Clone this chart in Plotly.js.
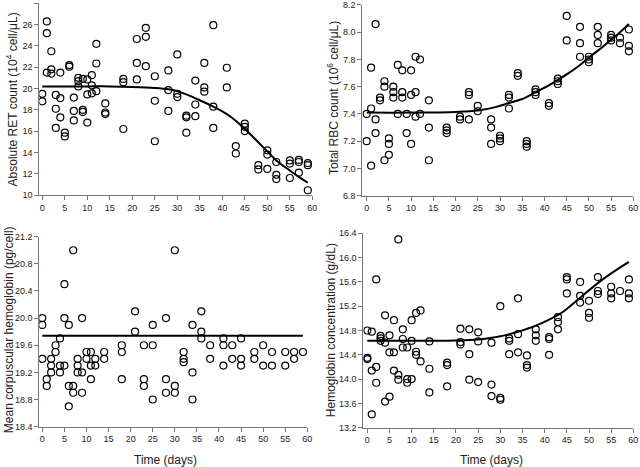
<!DOCTYPE html>
<html><head><meta charset="utf-8">
<script src="https://cdn.plot.ly/plotly-3.0.1.min.js"></script>
<style>html,body{margin:0;padding:0;background:#fff}#chart{width:640px;height:467px}</style>
</head><body><div id="chart"></div>
<script>
// ---- Panel A: Absolute RET count ----
const retDays = [0,0, 1,1,1, 2,2,2, 3,3,3, 4,4,4, 5,5, 6,6, 7,7,7, 8,8,8, 9,9,9, 10,10,10, 11,11,11, 12,12,12, 14,14,14, 18,18,18, 21,21,21, 23,23,23, 25,25,25, 28,28,28, 30,30,30, 32,32,32, 34,34,34, 36,36,36, 38,38,38, 41,41, 43,43, 45,45,45, 48,48, 50,50,50, 52,52,52, 55,55,55, 57,57,57, 59,59,59];
const retVals = [19.5,18.8, 26.3,25.2,21.5, 23.5,21.8,21.4, 19.4,18.1,16.3, 21.5,19.1,17.3, 15.85,15.5, 22.2,22.05, 19.15,17.9,17.0, 21.0,20.7,20.2, 20.9,18.0,17.8, 20.85,19.45,16.8, 21.25,20.3,19.55, 24.2,22.35,19.75, 18.6,17.75,17.6, 20.9,20.6,16.2, 24.65,22.4,20.85, 25.7,24.85,22.1, 21.15,18.85,15.05, 21.7,19.85,17.9, 23.2,19.5,19.2, 17.45,17.3,15.85, 20.75,18.5,17.4, 22.4,20.1,19.7, 25.95,18.3,16.3, 21.95,20.1, 14.6,13.9, 16.7,16.4,16.0, 12.8,12.4, 14.2,13.8,12.45, 13.1,11.9,11.5, 13.25,12.95,11.6, 13.3,13.1,12.1, 13.0,12.8,10.45];
const retFitDays = [0,5,10,15,20,25,28,30,32,35,38,40,42,44,46,48,50,52,55,57,59];
const retFitVals = [20.2,20.2,20.2,20.2,20.15,20.05,19.93,19.75,19.45,18.9,18.3,17.85,17.3,16.6,15.8,14.95,14.1,13.25,12.3,11.7,11.15];

// ---- Panel B: Total RBC count ----
const rbcDays = [0,0, 1,1,1, 2,2,2, 3,3, 4,4,4, 5,5,5, 6,6,6, 7,7, 8,8,8, 9,9, 10,10,10, 11,11,11, 12,12, 14,14,14, 18,18,18, 21,21, 23,23,23, 25,25, 28,28,28, 30,30,30, 32,32,32, 34,34, 36,36,36, 38,38,38, 41,41, 43,43,43, 45,45, 48,48,48, 50,50,50, 52,52,52, 55,55,55, 57,57, 59,59,59];
const rbcVals = [7.40,7.20, 7.74,7.44,7.02, 8.06,7.36,7.26, 7.52,7.50, 7.64,7.60,7.06, 7.22,7.18,7.10, 7.60,7.56,7.52, 7.76,7.40, 7.72,7.56,7.52, 7.40,7.26, 7.72,7.54,7.18, 7.82,7.56,7.38, 7.80,7.40, 7.50,7.30,7.06, 7.30,7.28,7.26, 7.38,7.36, 7.56,7.54,7.36, 7.46,7.42, 7.36,7.30,7.18, 7.24,7.22,7.20, 7.54,7.52,7.44, 7.70,7.68, 7.20,7.18,7.16, 7.58,7.56,7.54, 7.48,7.46, 7.66,7.64,7.62, 8.12,7.94, 8.04,7.92,7.82, 7.82,7.80,7.78, 8.04,7.98,7.92, 7.98,7.96,7.94, 7.96,7.92, 8.02,7.90,7.86];
const rbcFitDays = [0,10,20,25,29,32,35,38,41,43,45,48,50,53,55,57,59];
const rbcFitVals = [7.41,7.41,7.415,7.425,7.45,7.48,7.51,7.56,7.61,7.65,7.69,7.76,7.815,7.89,7.945,8.0,8.06];

// ---- Panel C: Mean corpuscular hemoglobin ----
const mchDays = [0,0,0, 1,1, 2,2,2, 3,3, 4,4,4, 5,5,5, 6,6,6, 7,7,7, 8,8,8, 9,9,9, 10,10, 11,11,11, 12,12, 14,14, 18,18,18, 21,21, 23,23,23, 25,25,25, 28,28,28, 30,30,30, 32,32,32, 34,34,34, 36,36,36, 38,38, 41,41,41, 43,43, 45,45,45, 48,48, 50,50, 52,52, 55,55, 57,57, 59];
const mchVals = [20.0,19.9,19.4, 19.1,19.0, 19.4,19.3,19.2, 19.6,19.5, 19.7,19.3,19.2, 20.5,20.0,19.3, 19.9,19.0,18.7, 21.0,19.0,18.9, 19.4,19.3,19.2, 20.0,19.2,18.9, 19.5,19.4, 19.5,19.3,19.1, 19.4,19.3, 19.5,19.4, 19.6,19.5,19.1, 20.1,19.8, 19.6,19.1,19.0, 19.9,19.6,18.8, 20.0,19.1,18.9, 21.0,19.0,18.9, 19.5,19.4,19.35, 19.9,19.2,18.8, 20.1,19.8,19.7, 19.6,19.4, 19.7,19.6,19.3, 19.6,19.4, 19.7,19.4,19.3, 19.5,19.4, 19.6,19.3, 19.5,19.3, 19.5,19.3, 19.5,19.4, 19.5];
const mchFitDays = [0,59];
const mchFitVals = [19.74,19.74];

// ---- Panel D: Hemoglobin concentration ----
const hbDays = [0,0,0, 1,1,1, 2,2,2, 3,3,3, 4,4,4, 5,5,5, 6,6,6, 7,7,7, 8,8,8, 9,9,9, 10,10,10, 11,11,11, 12,12, 14,14,14, 18,18,18, 21,21,21, 23,23,23, 25,25,25, 28,28,28, 30,30,30, 32,32,32, 34,34,34, 36,36,36, 38,38,38, 41,41,41, 43,43,43, 45,45,45, 48,48,48, 50,50,50, 52,52,52, 55,55,55, 57, 59,59,59];
const hbVals = [14.8,14.35,14.33, 14.78,14.14,13.42, 15.64,14.2,13.94, 14.71,14.67,14.63, 15.05,14.6,13.63, 14.72,14.44,13.71, 14.97,14.44,14.14, 16.3,14.07,13.99, 14.82,14.66,14.52, 14.52,14.0,13.94, 14.97,14.63,14.0, 15.09,14.45,14.4, 15.13,14.29, 14.62,14.17,13.78, 14.27,14.23,13.88, 14.83,14.61,14.57, 14.82,14.41,13.99, 14.77,14.62,13.95, 14.6,13.91,13.72, 15.2,13.69,13.66, 14.67,14.63,14.41, 15.33,14.74,14.44, 14.39,14.23,14.19, 14.82,14.72,14.63, 14.69,14.66,14.4, 15.02,14.94,14.82, 15.68,15.64,15.41, 15.6,15.37,15.26, 15.29,15.09,15.01, 15.68,15.45,15.4, 15.52,15.41,15.33, 15.45, 15.64,15.41,15.33];
const hbFitDays = [0,20,25,28,31,34,38,41,44,48,52,55,59];
const hbFitVals = [14.63,14.635,14.65,14.68,14.72,14.78,14.88,14.98,15.1,15.34,15.58,15.74,15.93];

const xTicks = [0,5,10,15,20,25,30,35,40,45,50,55,60];
const yTitles = ['Absolute RET count (10<sup>4</sup> cell/μL)', 'Total RBC count (10<sup>6</sup> cell/μL)', 'Mean corpuscular hemoglobin (pg/cell)', 'Hemoglobin concentration (g/dL)'];
const xTitle = 'Time (days)';

const panels = [
  {dx: retDays, dy: retVals, fx: retFitDays, fy: retFitVals},
  {dx: rbcDays, dy: rbcVals, fx: rbcFitDays, fy: rbcFitVals},
  {dx: mchDays, dy: mchVals, fx: mchFitDays, fy: mchFitVals},
  {dx: hbDays, dy: hbVals, fx: hbFitDays, fy: hbFitVals}
];

const traces = [];
panels.forEach((p, i) => {
  const xa = i === 0 ? 'x' : 'x' + (i + 1);
  const ya = i === 0 ? 'y' : 'y' + (i + 1);
  traces.push({x: p.dx, y: p.dy, xaxis: xa, yaxis: ya, type: 'scatter', mode: 'markers',
    marker: {symbol: 'circle-open', size: 7, color: '#000', line: {width: 1.2, color: '#000'}}, hoverinfo: 'skip'});
  traces.push({x: p.fx, y: p.fy, xaxis: xa, yaxis: ya, type: 'scatter', mode: 'lines',
    line: {color: '#000', width: 2, shape: 'spline', smoothing: 1}, hoverinfo: 'skip'});
});

const font = {family: 'Liberation Sans, Arial, sans-serif', size: 9, color: '#222'};
function xAxis(dom, anchor, r0) {
  return {domain: dom, anchor: anchor, range: [r0, 60], tickvals: xTicks, ticks: 'outside', ticklen: 4,
    tickcolor: '#777', showline: true, linecolor: '#777', linewidth: 1, showgrid: false, zeroline: false,
    tickfont: font, fixedrange: true};
}
function yAxis(dom, anchor, range, dtick, fmt) {
  return {domain: dom, anchor: anchor, range: range, dtick: dtick, tick0: range[0], tickformat: fmt,
    ticks: 'outside', ticklen: 4, tickcolor: '#777', showline: true, linecolor: '#777', linewidth: 1,
    showgrid: false, zeroline: false, tickfont: font, fixedrange: true};
}

const tf = {family: 'Liberation Sans, Arial, sans-serif', size: 12, color: '#222'};
const layout = {
  width: 640, height: 467, margin: {l: 0, r: 0, t: 0, b: 0}, showlegend: false,
  paper_bgcolor: '#fff', plot_bgcolor: '#fff', font: font,
  xaxis:  xAxis([0.0614, 0.4880], 'y', -0.67),
  yaxis:  yAxis([0.5824, 0.9929], 'x', [10, 28], 2, 'd'),
  xaxis2: xAxis([0.5661, 0.9896], 'y2', -0.98),
  yaxis2: yAxis([0.5810, 0.9893], 'x2', [6.8, 8.2], 0.2, '.1f'),
  xaxis3: xAxis([0.0614, 0.4802], 'y3', -0.68),
  yaxis3: yAxis([0.0864, 0.4932], 'x3', [18.4, 21.2], 0.4, '.1f'),
  xaxis4: xAxis([0.5677, 0.9896], 'y4', -0.9),
  yaxis4: yAxis([0.0842, 0.5004], 'x4', [13.2, 16.4], 0.4, '.1f'),
  annotations: [
    {text: yTitles[0], xref: 'paper', yref: 'paper', x: 12/640, y: 0.787, xanchor: 'center', yanchor: 'middle', textangle: -90, showarrow: false, font: tf},
    {text: yTitles[1], xref: 'paper', yref: 'paper', x: 333/640, y: 0.790, xanchor: 'center', yanchor: 'middle', textangle: -90, showarrow: false, font: tf},
    {text: yTitles[2], xref: 'paper', yref: 'paper', x: 9/640, y: 0.293, xanchor: 'center', yanchor: 'middle', textangle: -90, showarrow: false, font: tf},
    {text: yTitles[3], xref: 'paper', yref: 'paper', x: 331/640, y: 0.293, xanchor: 'center', yanchor: 'middle', textangle: -90, showarrow: false, font: tf},
    {text: xTitle, xref: 'paper', yref: 'paper', x: 165/640, y: 7/467, xanchor: 'center', yanchor: 'middle', showarrow: false, font: tf},
    {text: xTitle, xref: 'paper', yref: 'paper', x: 491/640, y: 7/467, xanchor: 'center', yanchor: 'middle', showarrow: false, font: tf}
  ]
};

Plotly.newPlot('chart', traces, layout, {staticPlot: true, displayModeBar: false});
</script></body></html>
